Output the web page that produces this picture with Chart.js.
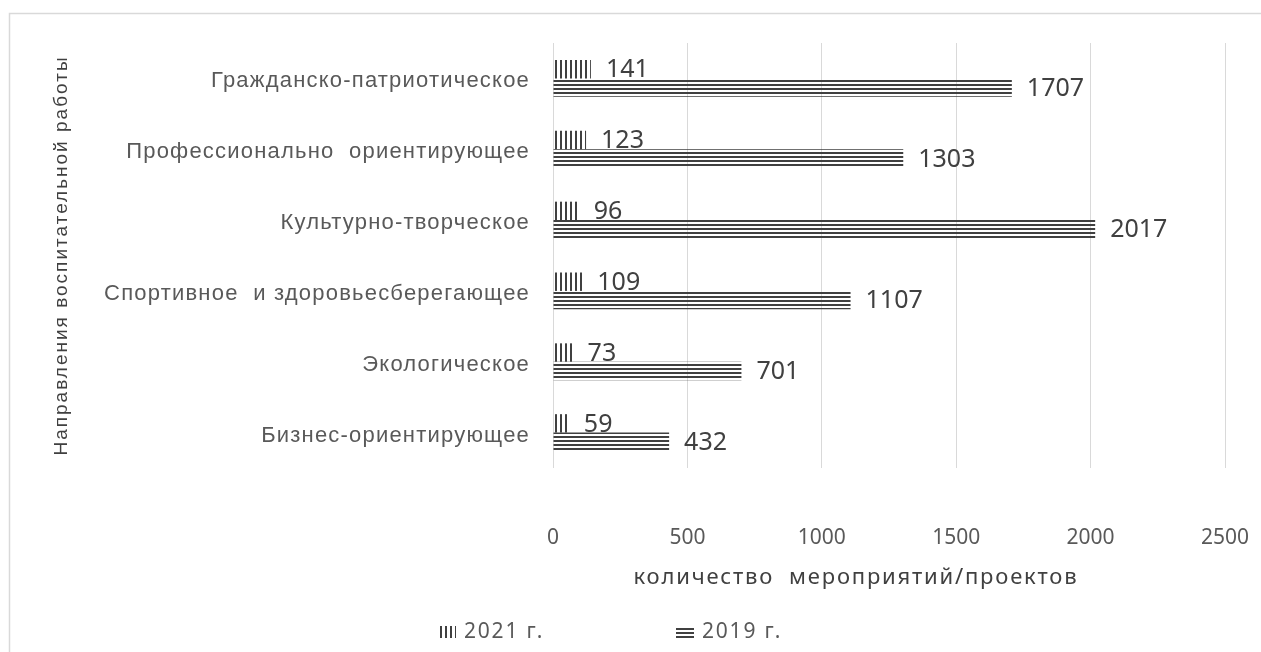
<!DOCTYPE html>
<html>
<head>
<meta charset="utf-8">
<script src="https://cdn.jsdelivr.net/npm/chart.js@4.4.1/dist/chart.umd.min.js"></script>
<style>
  html, body { margin: 0; padding: 0; background: #ffffff; }
  #wrap { width: 1261px; height: 652px; position: relative; }
</style>
</head>
<body>
<div id="wrap"><canvas id="chart"></canvas></div>
<script>
const categories = [
    'Гражданско-патриотическое',
    'Профессионально  ориентирующее',
    'Культурно-творческое',
    'Спортивное  и здоровьесберегающее',
    'Экологическое',
    'Бизнес-ориентирующее'
];
const values2021 = [141, 123, 96, 109, 73, 59];
const values2019 = [1707, 1303, 2017, 1107, 701, 432];
const seriesNames = ['2021 г.', '2019 г.'];
const xTicks = [0, 500, 1000, 1500, 2000, 2500];

const textColor = '#595959';
const inkColor = '#404040';
const gridColor = '#d9d9d9';

// striped fills like the original print-friendly chart
function makePattern(vertical) {
    const c = document.createElement('canvas');
    const ctx = c.getContext('2d');
    if (vertical) {
        c.width = 5; c.height = 1;
        ctx.fillStyle = inkColor;
        ctx.fillRect(0, 0, 2, 1);
    } else {
        c.width = 1; c.height = 4;
        ctx.fillStyle = inkColor;
        ctx.fillRect(0, 0, 1, 2);
    }
    return ctx.createPattern(c, 'repeat');
}
const pat2021 = makePattern(true);
const pat2019 = makePattern(false);

function spaced(ctx, px) {
    if ('letterSpacing' in ctx) ctx.letterSpacing = px + 'px';
}

const extras = {
    id: 'extras',
    beforeDraw(chart) {
        const ctx = chart.ctx;
        ctx.save();
        ctx.strokeStyle = gridColor;
        ctx.lineWidth = 1.5;
        ctx.beginPath();
        ctx.moveTo(9.5, 660);
        ctx.lineTo(9.5, 13.5);
        ctx.lineTo(1270, 13.5);
        ctx.stroke();
        ctx.restore();
    },
    afterDatasetsDraw(chart) {
        const ctx = chart.ctx;
        ctx.save();
        ctx.font = '25px "Noto Sans"';
        ctx.fillStyle = inkColor;
        ctx.textAlign = 'left';
        ctx.textBaseline = 'middle';
        chart.data.datasets.forEach((ds, i) => {
            chart.getDatasetMeta(i).data.forEach((bar, j) => {
                ctx.fillText(String(ds.data[j]), bar.x + 15, bar.y + 1);
            });
        });
        ctx.restore();
    },
    afterDraw(chart) {
        const ctx = chart.ctx;
        const yScale = chart.scales.y;

        // category labels
        ctx.save();
        ctx.font = '22px "Liberation Sans"';
        spaced(ctx, 1.2);
        ctx.fillStyle = textColor;
        ctx.textAlign = 'right';
        ctx.textBaseline = 'middle';
        categories.forEach((c, i) => {
            ctx.fillText(c, 530, yScale.getPixelForTick(i) + 3);
        });
        ctx.restore();

        // y axis title
        ctx.save();
        ctx.font = '19px "Liberation Sans"';
        spaced(ctx, 2);
        ctx.fillStyle = inkColor;
        ctx.textAlign = 'center';
        ctx.textBaseline = 'middle';
        ctx.translate(62, (chart.chartArea.top + chart.chartArea.bottom) / 2);
        ctx.rotate(-Math.PI / 2);
        ctx.fillText('Направления воспитательной работы', 0, 0);
        ctx.restore();

        // x axis title
        ctx.save();
        ctx.font = '22px "Noto Sans"';
        spaced(ctx, 1.8);
        ctx.fillStyle = inkColor;
        ctx.textAlign = 'center';
        ctx.textBaseline = 'middle';
        ctx.fillText('количество  мероприятий/проектов', 856, 578);
        ctx.restore();

        // legend
        const items = [
            { x: 438, fill: pat2021, label: seriesNames[0] },
            { x: 676, fill: pat2019, label: seriesNames[1] }
        ];
        ctx.save();
        ctx.font = '21px "Noto Sans"';
        spaced(ctx, 1.8);
        ctx.textAlign = 'left';
        ctx.textBaseline = 'middle';
        items.forEach(it => {
            ctx.fillStyle = it.fill;
            ctx.fillRect(it.x, 626, 18, 12);
            ctx.fillStyle = textColor;
            ctx.fillText(it.label, it.x + 26, 632);
        });
        ctx.restore();
    }
};

new Chart(document.getElementById('chart'), {
    type: 'bar',
    data: {
        labels: categories,
        datasets: [
            { label: seriesNames[0], data: values2021, backgroundColor: pat2021, borderWidth: 0 },
            { label: seriesNames[1], data: values2019, backgroundColor: pat2019, borderWidth: 0 }
        ]
    },
    options: {
        indexAxis: 'y',
        responsive: true,
        maintainAspectRatio: false,
        animation: false,
        categoryPercentage: 0.52,
        barPercentage: 1,
        layout: { padding: { left: 47, top: 43, right: 36, bottom: 0 } },
        plugins: {
            legend: { display: false },
            tooltip: { enabled: false }
        },
        scales: {
            x: {
                min: 0,
                max: 2500,
                afterBuildTicks: s => { s.ticks = xTicks.map(v => ({ value: v })); },
                afterFit: s => { s.height = 184; s.paddingLeft = 0; s.paddingRight = 0; },
                grid: { color: gridColor, drawTicks: false },
                border: { display: false },
                ticks: {
                    color: textColor,
                    font: { family: 'Noto Sans', size: 21 },
                    padding: 57,
                    callback: v => String(v)
                }
            },
            y: {
                afterFit: s => { s.width = 506; },
                grid: { display: false },
                border: { display: false },
                ticks: { display: false }
            }
        }
    },
    plugins: [extras]
});
</script>
</body>
</html>
